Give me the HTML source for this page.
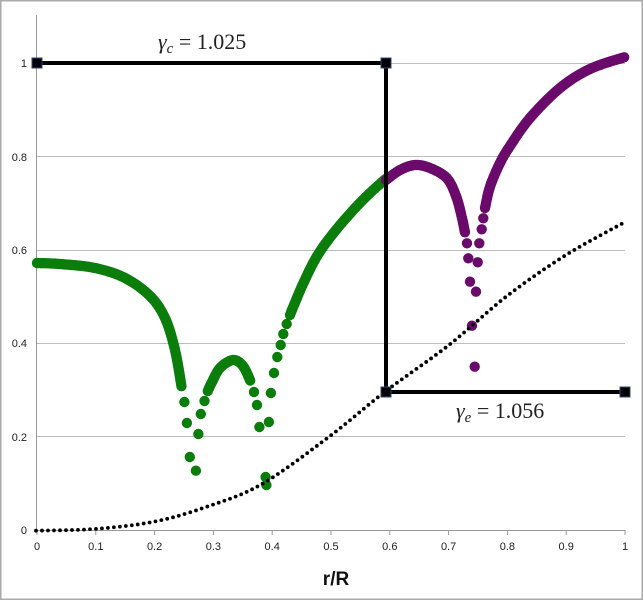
<!DOCTYPE html>
<html><head><meta charset="utf-8"><style>
body{margin:0;background:#fff}
svg{display:block}
</style></head><body>
<svg id="s" width="643" height="600" xmlns="http://www.w3.org/2000/svg" style="font-family:'Liberation Sans',sans-serif">
<rect x="0.5" y="0.5" width="642" height="599" fill="#fff" stroke="#aaa" stroke-width="2"/>
<g stroke="#bdbdbd" stroke-width="1">
<line x1="37" y1="63.5" x2="625" y2="63.5"/>
<line x1="37" y1="156.5" x2="625" y2="156.5"/>
<line x1="37" y1="250.5" x2="625" y2="250.5"/>
<line x1="37" y1="343.5" x2="625" y2="343.5"/>
<line x1="37" y1="436.5" x2="625" y2="436.5"/>
</g>
<g stroke="#999" stroke-width="1">
<line x1="36.5" y1="15" x2="36.5" y2="530"/>
<line x1="36" y1="530.5" x2="625" y2="530.5"/>
</g>
<g id="ticks" stroke="#999"></g>
<g font-size="11" fill="#222" text-anchor="end">
<text x="27" y="534">0</text><text x="27" y="441">0.2</text><text x="27" y="347">0.4</text>
<text x="27" y="254">0.6</text><text x="27" y="161">0.8</text><text x="27" y="67">1</text>
</g>
<g id="xl" font-size="11" fill="#222" text-anchor="middle"></g>
<text x="336" y="585" font-size="19" font-weight="bold" text-anchor="middle" fill="#111">r/R</text>
<g id="dots"></g>
<g stroke="#000" stroke-width="4" fill="none">
<polyline points="37,63 386,63 386,392 625,392"/>
</g>
<g fill="#000" stroke="#2a4a7a" stroke-width="1">
<rect x="32" y="58" width="10" height="10"/><rect x="381" y="58" width="10" height="10"/>
<rect x="381" y="387" width="10" height="10"/><rect x="620" y="387" width="10" height="10"/>
</g>
<text x="158" y="49" style="font-family:'Liberation Serif',serif" font-size="22" fill="#222"><tspan font-style="italic">γ</tspan><tspan font-style="italic" font-size="15" dy="4">c</tspan><tspan dy="-4"> = 1.025</tspan></text>
<text x="456" y="418" style="font-family:'Liberation Serif',serif" font-size="22" fill="#222"><tspan font-style="italic">γ</tspan><tspan font-style="italic" font-size="15" dy="4">e</tspan><tspan dy="-4"> = 1.056</tspan></text>
</svg>
<script>
var NS="http://www.w3.org/2000/svg";
var g=document.getElementById('dots');
function dot(x,y,r,c){var e=document.createElementNS(NS,'circle');e.setAttribute('cx',x);e.setAttribute('cy',y);e.setAttribute('r',r);e.setAttribute('fill',c);g.appendChild(e);}
function smooth(p){var o=[];for(var i=0;i<p.length-1;i++){var p0=p[Math.max(0,i-1)],p1=p[i],p2=p[i+1],p3=p[Math.min(p.length-1,i+2)];
 for(var k=0;k<20;k++){var t=k/20,t2=t*t,t3=t2*t;var f=function(a,b,c,d){return 0.5*((2*b)+(-a+c)*t+(2*a-5*b+4*c-d)*t2+(-a+3*b-3*c+d)*t3);};
 o.push([f(p0[0],p1[0],p2[0],p3[0]),f(p0[1],p1[1],p2[1],p3[1])]);}}o.push(p[p.length-1]);return o;}
function path(pts,step,r,c,sm){if(sm!==false)pts=smooth(pts);
  dot(pts[0][0],pts[0][1],r,c);var acc=0;
  for(var i=1;i<pts.length;i++){var a=pts[i-1],b=pts[i];var L=Math.hypot(b[0]-a[0],b[1]-a[1]);if(L==0)continue;var t=step-acc;
    while(t<=L){dot(a[0]+(b[0]-a[0])*t/L,a[1]+(b[1]-a[1])*t/L,r,c);t+=step;}acc=L-(t-step);}
}
function list(pts,r,c){pts.forEach(function(p){dot(p[0],p[1],r,c);});}
var tk=document.getElementById('ticks'),xl=document.getElementById('xl');
for(var i=0;i<=10;i++){var x=37+58.8*i;var l=document.createElementNS(NS,'line');l.setAttribute('x1',x);l.setAttribute('x2',x);l.setAttribute('y1',530);l.setAttribute('y2',535);tk.appendChild(l);
 var t=document.createElementNS(NS,'text');t.setAttribute('x',x);t.setAttribute('y',550);t.textContent=(i==0?'0':i==10?'1':'0.'+i);xl.appendChild(t);}
var dl=[[36,530.7],[94,529],[154,521.7],[207,506.7],[262,484],[330,436],[385,391.7],[449,345],[507,296],[566,255],[625,222]];
var G="#0b7d0b",P="#6a0a6a",R=5.2;
path([[37,263],[60,264],[95,268],[125,278],[150,296],[165,318],[175,350],[181.6,387]],2,R,G);
list([[184.4,402],[186.9,423],[189.8,457],[195.9,470.7],[198.4,434],[200.8,414],[204.5,401]],R,G);
path([[207.8,391],[211.5,383],[220,368],[233,360],[243,366],[250.8,382]],2,R,G);
list([[254,392],[257,405],[259.4,427],[265.6,477],[266.4,485],[268.9,422],[270.9,393],[274,373],[277.3,357],[280.7,345],[283.3,334],[286.7,324]],R,G);
path([[290,315],[293.3,306.7],[303.3,283.3],[316.7,256.7],[333.3,233.3],[353.3,210],[370,193],[386.7,178]],2,R,G);
path([[386,180],[400,170],[415,165],[430,168],[446.7,178],[456,196],[462,218],[465,232.7]],2,R,P);
list([[467,243.3],[468.3,258.3],[470,281.7],[472,325.7],[474.7,366.7],[476,291.7],[477.7,262.3],[479.3,243.3],[481.7,229.3],[483.3,218.3]],R,P);
path([[485,208],[490,186.7],[500,163],[510,146],[530,118],[560,88],[590,69],[625,57]],2,R,P);
path(dl,6,1.9,"#000");
</script>
</body></html>
